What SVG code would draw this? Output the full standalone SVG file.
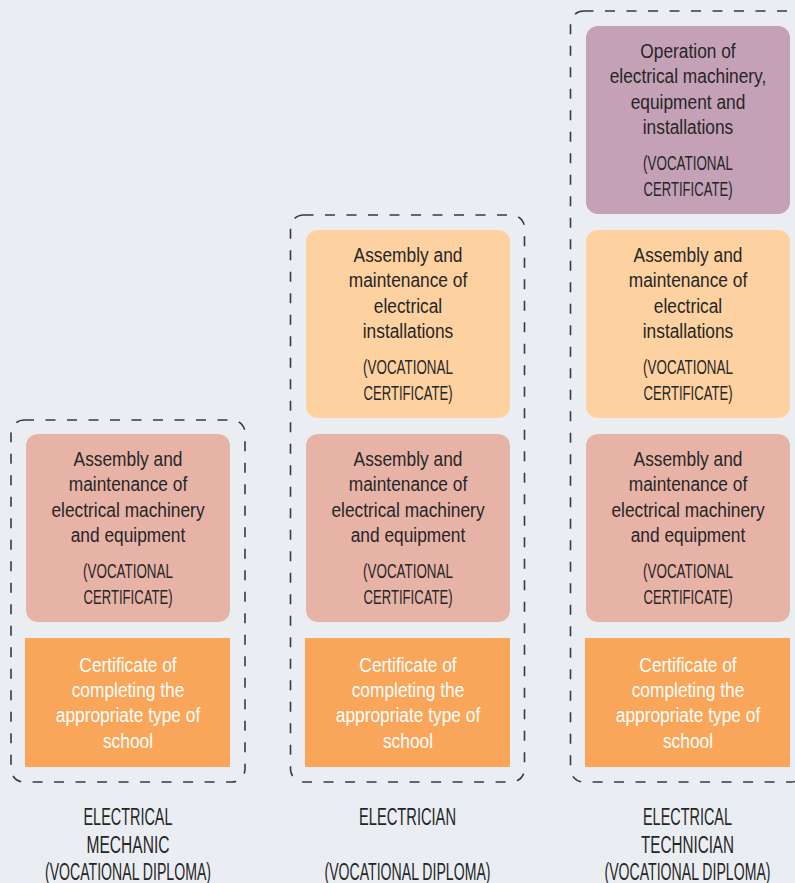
<svg xmlns="http://www.w3.org/2000/svg" width="795" height="883" viewBox="0 0 795 883">
<style>
.bg{fill:#eaeef2}
.frame{fill:none;stroke:#3a3a3a;stroke-width:1.6;stroke-dasharray:10 11.5}
.pink{fill:#e7b3a6}
.peach{fill:#fdd1a0}
.purple{fill:#c4a1b6}
.orange{fill:#faa65a}
text{font-family:"Liberation Sans",Arial,sans-serif;text-anchor:middle}
.t{font-size:21px;fill:#262626}
.w{font-size:21px;fill:#ffffff}
.lab{font-size:23.5px;fill:#262626}
</style>
<rect class="bg" x="0" y="0" width="795" height="883"/>
<g id="frames">
<rect id="frame-mechanic" class="frame" x="11" y="420" width="234" height="362" rx="13"/>
<rect id="frame-electrician" class="frame" x="290.5" y="215" width="234" height="567" rx="13"/>
<rect id="frame-technician" class="frame" x="570.5" y="11" width="234" height="771" rx="13"/>
</g>
<g id="connectors"></g>

<!-- Column 1: Electrical Mechanic -->
<g id="c1-machinery">
<rect class="pink" x="26" y="434" width="204" height="188" rx="12"/>
<g transform="matrix(0.825 0 0 1 128 0)">
<text class="t" x="0" y="466">Assembly and</text>
<text class="t" x="0" y="491.5">maintenance of</text>
<text class="t" x="0" y="517">electrical machinery</text>
<text class="t" x="0" y="542.5">and equipment</text>
<text class="t" x="0" y="578.5" textLength="109" lengthAdjust="spacingAndGlyphs">(VOCATIONAL</text>
<text class="t" x="0" y="604" textLength="108" lengthAdjust="spacingAndGlyphs">CERTIFICATE)</text>
</g>
</g>
<g id="c1-school">
<rect class="orange" x="25" y="638" width="205" height="129"/>
<g transform="matrix(0.825 0 0 1 128 0)">
<text class="w" x="0" y="672">Certificate of</text>
<text class="w" x="0" y="697">completing the</text>
<text class="w" x="0" y="722.5">appropriate type of</text>
<text class="w" x="0" y="748">school</text>
</g>
</g>
<g id="c1-label">
<text class="lab" x="128" y="825" textLength="89" lengthAdjust="spacingAndGlyphs">ELECTRICAL</text>
<text class="lab" x="128" y="853" textLength="83" lengthAdjust="spacingAndGlyphs">MECHANIC</text>
<text class="lab" x="128" y="879.5" textLength="166" lengthAdjust="spacingAndGlyphs">(VOCATIONAL DIPLOMA)</text>
</g>

<!-- Column 2: Electrician -->
<g id="c2-installations">
<rect class="peach" x="306" y="230" width="204" height="188" rx="12"/>
<g transform="matrix(0.825 0 0 1 408 0)">
<text class="t" x="0" y="262">Assembly and</text>
<text class="t" x="0" y="287.5">maintenance of</text>
<text class="t" x="0" y="313">electrical</text>
<text class="t" x="0" y="338.5">installations</text>
<text class="t" x="0" y="374.5" textLength="109" lengthAdjust="spacingAndGlyphs">(VOCATIONAL</text>
<text class="t" x="0" y="400" textLength="108" lengthAdjust="spacingAndGlyphs">CERTIFICATE)</text>
</g>
</g>
<g id="c2-machinery">
<rect class="pink" x="306" y="434" width="204" height="188" rx="12"/>
<g transform="matrix(0.825 0 0 1 408 0)">
<text class="t" x="0" y="466">Assembly and</text>
<text class="t" x="0" y="491.5">maintenance of</text>
<text class="t" x="0" y="517">electrical machinery</text>
<text class="t" x="0" y="542.5">and equipment</text>
<text class="t" x="0" y="578.5" textLength="109" lengthAdjust="spacingAndGlyphs">(VOCATIONAL</text>
<text class="t" x="0" y="604" textLength="108" lengthAdjust="spacingAndGlyphs">CERTIFICATE)</text>
</g>
</g>
<g id="c2-school">
<rect class="orange" x="305" y="638" width="205" height="129"/>
<g transform="matrix(0.825 0 0 1 408 0)">
<text class="w" x="0" y="672">Certificate of</text>
<text class="w" x="0" y="697">completing the</text>
<text class="w" x="0" y="722.5">appropriate type of</text>
<text class="w" x="0" y="748">school</text>
</g>
</g>
<g id="c2-label">
<text class="lab" x="407.5" y="825" textLength="97" lengthAdjust="spacingAndGlyphs">ELECTRICIAN</text>
<text class="lab" x="407.5" y="879.5" textLength="166" lengthAdjust="spacingAndGlyphs">(VOCATIONAL DIPLOMA)</text>
</g>

<!-- Column 3: Electrical Technician -->
<g id="c3-operation">
<rect class="purple" x="586" y="26" width="204" height="188" rx="12"/>
<g transform="matrix(0.825 0 0 1 688 0)">
<text class="t" x="0" y="58">Operation of</text>
<text class="t" x="0" y="83.5">electrical machinery,</text>
<text class="t" x="0" y="109">equipment and</text>
<text class="t" x="0" y="134.5">installations</text>
<text class="t" x="0" y="170.5" textLength="109" lengthAdjust="spacingAndGlyphs">(VOCATIONAL</text>
<text class="t" x="0" y="196" textLength="108" lengthAdjust="spacingAndGlyphs">CERTIFICATE)</text>
</g>
</g>
<g id="c3-installations">
<rect class="peach" x="586" y="230" width="204" height="188" rx="12"/>
<g transform="matrix(0.825 0 0 1 688 0)">
<text class="t" x="0" y="262">Assembly and</text>
<text class="t" x="0" y="287.5">maintenance of</text>
<text class="t" x="0" y="313">electrical</text>
<text class="t" x="0" y="338.5">installations</text>
<text class="t" x="0" y="374.5" textLength="109" lengthAdjust="spacingAndGlyphs">(VOCATIONAL</text>
<text class="t" x="0" y="400" textLength="108" lengthAdjust="spacingAndGlyphs">CERTIFICATE)</text>
</g>
</g>
<g id="c3-machinery">
<rect class="pink" x="586" y="434" width="204" height="188" rx="12"/>
<g transform="matrix(0.825 0 0 1 688 0)">
<text class="t" x="0" y="466">Assembly and</text>
<text class="t" x="0" y="491.5">maintenance of</text>
<text class="t" x="0" y="517">electrical machinery</text>
<text class="t" x="0" y="542.5">and equipment</text>
<text class="t" x="0" y="578.5" textLength="109" lengthAdjust="spacingAndGlyphs">(VOCATIONAL</text>
<text class="t" x="0" y="604" textLength="108" lengthAdjust="spacingAndGlyphs">CERTIFICATE)</text>
</g>
</g>
<g id="c3-school">
<rect class="orange" x="585" y="638" width="205" height="129"/>
<g transform="matrix(0.825 0 0 1 688 0)">
<text class="w" x="0" y="672">Certificate of</text>
<text class="w" x="0" y="697">completing the</text>
<text class="w" x="0" y="722.5">appropriate type of</text>
<text class="w" x="0" y="748">school</text>
</g>
</g>
<g id="c3-label">
<text class="lab" x="687.5" y="825" textLength="89" lengthAdjust="spacingAndGlyphs">ELECTRICAL</text>
<text class="lab" x="687.5" y="853" textLength="93" lengthAdjust="spacingAndGlyphs">TECHNICIAN</text>
<text class="lab" x="687.5" y="879.5" textLength="166" lengthAdjust="spacingAndGlyphs">(VOCATIONAL DIPLOMA)</text>
</g>
</svg>
